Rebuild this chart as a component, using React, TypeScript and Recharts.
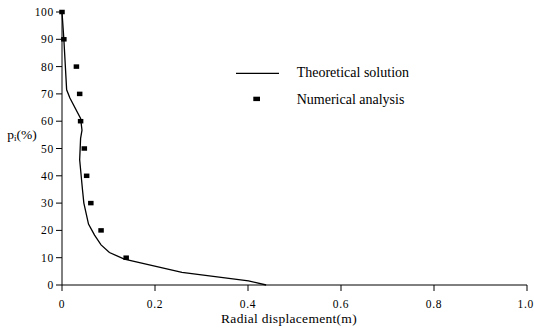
import React from "react";
import { ComposedChart, Line, Scatter, XAxis, YAxis } from "recharts";

// theoretical curve: [displacement (m), pressure (%)]
const theoryX = [0, 0.004, 0.01, 0.017, 0.04, 0.043, 0.04, 0.038, 0.044, 0.047, 0.057, 0.07, 0.084, 0.102, 0.134, 0.258, 0.401, 0.439];
const theoryY = [100, 90, 71.5, 68.5, 61, 56.7, 53.7, 45.9, 35, 30, 22.3, 18.3, 14.7, 11.9, 9.5, 4.6, 1.5, 0];

// numerical analysis points
const numX = [0, 0.004, 0.031, 0.038, 0.04, 0.048, 0.053, 0.062, 0.084, 0.138];
const numY = [100, 90, 80, 70, 60, 50, 40, 30, 20, 10];

const xTicks = [0, 0.2, 0.4, 0.6, 0.8, 1.0];
const yTicks = [0, 10, 20, 30, 40, 50, 60, 70, 80, 90, 100];

const theory = theoryX.map((x, i) => ({ x, y: theoryY[i] }));
const numerical = numX.map((x, i) => ({ x, y: numY[i] }));

const FONT = "Liberation Serif, Times New Roman, DejaVu Serif, serif";
const tickTxt = { fontFamily: FONT, fontSize: 11.5, letterSpacing: 0.7 };
const legendTxt = { fontFamily: FONT, fontSize: 14 };
const labelTxt = { fontFamily: FONT, fontSize: 13.5, letterSpacing: 0.3 };

const Square = (props: any) => {
  const { cx, cy } = props;
  return <rect x={cx - 2.75} y={cy - 2.25} width={5.5} height={4.5} fill="#000" />;
};

const LegendBox = () => (
  <svg
    width={180}
    height={50}
    style={{ position: "absolute", left: 236, top: 62, overflow: "visible" }}
  >
    <line x1={0} y1={11.3} x2={43} y2={11.3} stroke="#000" strokeWidth={1.3} />
    <text x={60.7} y={15} style={legendTxt} fill="#000">
      Theoretical solution
    </text>
    <rect x={17.3} y={34.7} width={6.7} height={4.4} fill="#000" />
    <text x={60.7} y={42.3} style={legendTxt} fill="#000">
      Numerical analysis
    </text>
  </svg>
);

const App: React.FC = () => {
  return (
    <div style={{ position: "absolute", left: 0, top: 0, width: 534, height: 334 }}>
      <ComposedChart
        width={534}
        height={334}
        margin={{ top: 12, right: 7, left: 0, bottom: 0 }}
      >
        <XAxis
          type="number"
          dataKey="x"
          domain={[0, 1]}
          ticks={xTicks}
          tickFormatter={(v: number) => (v === 0 ? "0" : v.toFixed(1))}
          height={49}
          tickSize={6}
          tickMargin={9}
          stroke="#000"
          tick={{ fill: "#000", style: tickTxt }}
          label={() => (
            <text x={289} y={322.7} textAnchor="middle" style={labelTxt} fill="#000">
              Radial displacement(m)
            </text>
          )}
        />
        <YAxis
          type="number"
          dataKey="y"
          domain={[0, 100]}
          ticks={yTicks}
          width={62}
          tickSize={6}
          tickMargin={2}
          stroke="#000"
          tick={{ fill: "#000", style: tickTxt }}
          label={() => (
            <text x={7.3} y={138.5} style={{ fontFamily: FONT, fontSize: 13.5 }} fill="#000">
              p
              <tspan style={{ fontSize: 9 }} dy={2}>i</tspan>
              <tspan dy={-2}>(%)</tspan>
            </text>
          )}
        />
        <Line
          data={theory}
          dataKey="y"
          type="linear"
          stroke="#000"
          strokeWidth={1.3}
          dot={false}
          isAnimationActive={false}
          name="Theoretical solution"
        />
        <Scatter
          data={numerical}
          dataKey="y"
          fill="#000"
          shape={Square}
          isAnimationActive={false}
          name="Numerical analysis"
        />
      </ComposedChart>
      <LegendBox />
    </div>
  );
};

export default App;
